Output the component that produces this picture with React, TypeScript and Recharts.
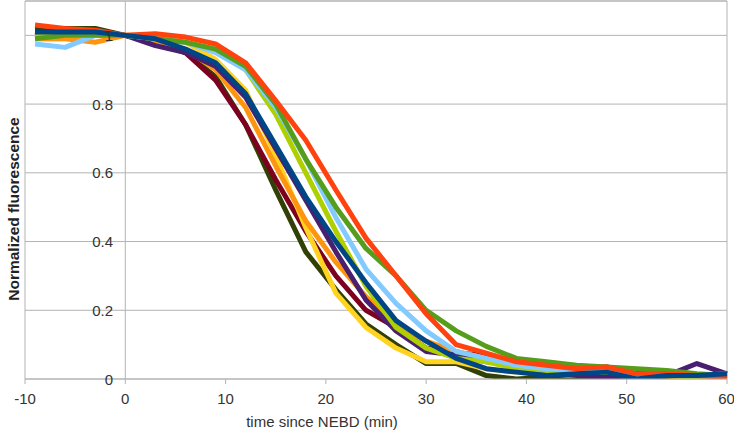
import React from "react";
import { LineChart, Line, XAxis, YAxis, CartesianGrid, ReferenceLine, Label } from "recharts";

const times = [-9, -6, -3, 0, 3, 6, 9, 12, 15, 18, 21, 24, 27, 30, 33, 36, 39, 42, 45, 48, 51, 54, 57, 60];

const xTicks = [-10, 0, 10, 20, 30, 40, 50, 60];
const yTicks = [0, 0.2, 0.4, 0.6, 0.8, 1];

const oliveSeries = [1.02, 1.02, 1.02, 1.0, 0.98, 0.95, 0.88, 0.74, 0.55, 0.37, 0.26, 0.16, 0.1, 0.045, 0.045, 0.01, 0.0, 0.005, 0.005, 0.01, 0.005, 0.005, 0.005, 0.01];
const darkRedSeries = [1.0, 1.0, 1.0, 1.0, 0.98, 0.95, 0.87, 0.74, 0.58, 0.43, 0.3, 0.2, 0.15, 0.09, 0.075, 0.07, 0.05, 0.04, 0.03, 0.035, 0.02, 0.02, 0.01, 0.01];
const yellowSeries = [0.99, 0.99, 1.0, 1.0, 1.0, 0.98, 0.93, 0.84, 0.65, 0.44, 0.25, 0.15, 0.09, 0.05, 0.05, 0.03, 0.02, 0.015, 0.01, 0.01, 0.005, 0.01, 0.005, 0.0];
const orangeSeries = [0.99, 0.99, 0.98, 1.0, 0.98, 0.96, 0.9, 0.79, 0.62, 0.46, 0.34, 0.24, 0.16, 0.11, 0.08, 0.06, 0.04, 0.035, 0.03, 0.025, 0.01, 0.01, 0.005, 0.0];
const purpleSeries = [1.0, 1.01, 1.01, 1.0, 0.97, 0.95, 0.91, 0.82, 0.67, 0.52, 0.37, 0.23, 0.14, 0.08, 0.07, 0.05, 0.04, 0.02, 0.01, 0.005, 0.01, 0.01, 0.045, 0.015];
const limeSeries = [1.0, 1.0, 1.0, 1.0, 0.99, 0.98, 0.96, 0.9, 0.77, 0.6, 0.43, 0.27, 0.15, 0.09, 0.06, 0.05, 0.03, 0.025, 0.02, 0.02, 0.01, 0.01, 0.005, 0.005];
const lightBlueSeries = [0.975, 0.965, 1.0, 1.0, 0.99, 0.98, 0.95, 0.9, 0.79, 0.64, 0.47, 0.32, 0.22, 0.14, 0.08, 0.06, 0.04, 0.03, 0.025, 0.03, 0.01, 0.015, 0.01, 0.015];
const greenSeries = [0.99, 1.0, 1.0, 1.0, 0.99, 0.98, 0.96, 0.91, 0.8, 0.64, 0.5, 0.38, 0.3, 0.2, 0.14, 0.095, 0.06, 0.05, 0.04, 0.035, 0.03, 0.025, 0.015, 0.01];
const orangeRedSeries = [1.03, 1.02, 1.015, 1.0, 1.005, 0.995, 0.975, 0.92, 0.81, 0.695, 0.55, 0.41, 0.3, 0.19, 0.1, 0.075, 0.05, 0.04, 0.03, 0.035, 0.015, 0.015, 0.01, 0.005];
const darkBlueSeries = [1.01, 1.01, 1.01, 1.0, 0.99, 0.96, 0.92, 0.83, 0.68, 0.53, 0.4, 0.28, 0.17, 0.11, 0.06, 0.03, 0.02, 0.01, 0.015, 0.02, 0.0, 0.01, 0.01, 0.015];

const seriesList = [
  { key: "s1", values: oliveSeries, color: "#314004" },
  { key: "s2", values: darkRedSeries, color: "#7E0021" },
  { key: "s3", values: yellowSeries, color: "#FFD320" },
  { key: "s4", values: orangeSeries, color: "#FF950E" },
  { key: "s5", values: purpleSeries, color: "#4B1F6F" },
  { key: "s6", values: limeSeries, color: "#AECF00" },
  { key: "s7", values: lightBlueSeries, color: "#83CAFF" },
  { key: "s8", values: greenSeries, color: "#579D1C" },
  { key: "s9", values: orangeRedSeries, color: "#FF420E" },
  { key: "s10", values: darkBlueSeries, color: "#004586" },
];

const data = times.map((t, i) => {
  const row: Record<string, number> = { t };
  seriesList.forEach((s) => {
    row[s.key] = s.values[i];
  });
  return row;
});

const FONT = "'Liberation Sans', Arial, sans-serif";
const GRID = "#b3b3b3";

const YTick = (props: any) => {
  const { x, y, payload } = props;
  return (
    <text x={x + 88} y={y} textAnchor="end" dominantBaseline="central" fontSize={15} fill="#333" fontFamily={FONT}>
      {payload.value}
    </text>
  );
};

export default function App() {
  return (
    <div style={{ position: "absolute", left: 0, top: 0, background: "#fff" }}>
      <LineChart width={734} height={432} data={data} margin={{ top: 1, right: 7, left: 0, bottom: 0 }}>
        <CartesianGrid horizontal={true} vertical={false} stroke={GRID} />
        <XAxis
          dataKey="t"
          type="number"
          domain={[-10, 60]}
          ticks={xTicks}
          height={53}
          stroke={GRID}
          tickSize={5}
          tickMargin={9}
          tick={{ fontSize: 15, fill: "#333", fontFamily: FONT }}
        >
          <Label
            content={(p: any) => {
              const vb = p.viewBox;
              return (
                <text x={vb.x + vb.width / 2 - 54} y={vb.y + 48} textAnchor="middle" fontSize={15} fill="#333" fontFamily={FONT}>
                  time since NEBD (min)
                </text>
              );
            }}
          />
        </XAxis>
        <YAxis
          type="number"
          domain={[0, 1.1]}
          ticks={yTicks}
          width={25}
          axisLine={false}
          tickLine={false}
          tickSize={0}
          tickMargin={0}
          tick={<YTick />}
          allowDataOverflow
        >
          <Label
            content={(p: any) => {
              const vb = p.viewBox;
              const cx = 13;
              const cy = vb.y + vb.height / 2 + 19;
              return (
                <text x={cx} y={cy} transform={`rotate(-90, ${cx}, ${cy})`} textAnchor="middle" dominantBaseline="central" fontSize={15.5} fontWeight="bold" fill="#222" fontFamily={FONT}>
                  Normalized fluorescence
                </text>
              );
            }}
          />
        </YAxis>
        <ReferenceLine y={1.1} stroke={GRID} />
        <ReferenceLine x={-10} stroke={GRID} />
        <ReferenceLine x={60} stroke={GRID} />
        <ReferenceLine x={0} stroke={GRID} />
        {seriesList.map((s) => (
          <Line
            key={s.key}
            dataKey={s.key}
            stroke={s.color}
            strokeWidth={5}
            dot={false}
            activeDot={false}
            type="linear"
            strokeLinejoin="round"
            isAnimationActive={false}
          />
        ))}
      </LineChart>
    </div>
  );
}
